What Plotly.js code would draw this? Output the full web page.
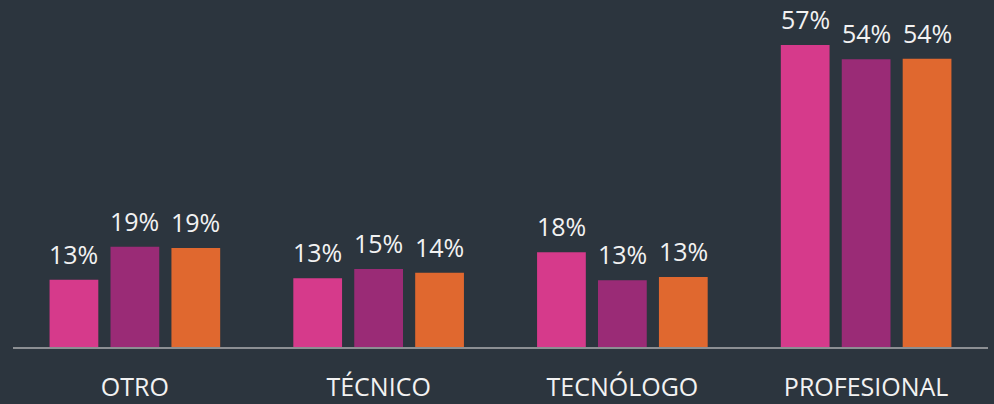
<!DOCTYPE html>
<html><head><meta charset="utf-8">
<script src="https://cdn.plot.ly/plotly-3.0.1.min.js"></script>
<style>html,body{margin:0;padding:0;background:#2c353e;}</style>
</head><body>
<div id="chart" style="width:994px;height:404px;"></div>
<script>
const categories = ["OTRO", "TÉCNICO", "TECNÓLOGO", "PROFESIONAL"];
const seriesNames = ["Serie 1", "Serie 2", "Serie 3"];
const serie1 = [12.7, 13.0, 17.9, 57.0];
const serie2 = [18.9, 14.7, 12.6, 54.3];
const serie3 = [18.7, 14.0, 13.2, 54.4];
const labels1 = ["13%", "13%", "18%", "57%"];
const labels2 = ["19%", "15%", "13%", "54%"];
const labels3 = ["19%", "14%", "13%", "54%"];
const colors = ["#d63a8b", "#9a2b76", "#e0682f"];

const allSeries = [serie1, serie2, serie3];
const allLabels = [labels1, labels2, labels3];
const traces = allSeries.map((s, i) => ({
  type: "bar", name: seriesNames[i], x: categories, y: s,
  marker: {color: colors[i]}, hoverinfo: "skip"
}));
const slot = 61;
const annotations = [];
allSeries.forEach((s, i) => {
  s.forEach((v, j) => {
    annotations.push({
      x: categories[j], y: v, xref: "x", yref: "y",
      text: allLabels[i][j], showarrow: false, yanchor: "bottom",
      xshift: (i - 1) * slot, yshift: 7,
      font: {family: "Open Sans, sans-serif", size: 25, color: "#f2f2f2"}
    });
  });
});
const layout = {
  width: 994, height: 404,
  paper_bgcolor: "#2c353e", plot_bgcolor: "#2c353e",
  margin: {l: 13, r: 6, t: 0, b: 57},
  barmode: "group", bargap: 0.25, bargroupgap: 0.2,
  showlegend: false,
  xaxis: {
    type: "category", showline: true, linecolor: "#8c8f93", linewidth: 2,
    ticks: "outside", ticklen: 17, tickcolor: "rgba(0,0,0,0)",
    tickfont: {family: "Open Sans, sans-serif", size: 25, color: "#f2f2f2"},
    showgrid: false, zeroline: false
  },
  yaxis: {range: [0, 65.5], visible: false, showgrid: false, zeroline: false},
  annotations: annotations
};
Plotly.newPlot("chart", traces, layout, {displayModeBar: false, staticPlot: true});
</script>
</body></html>
